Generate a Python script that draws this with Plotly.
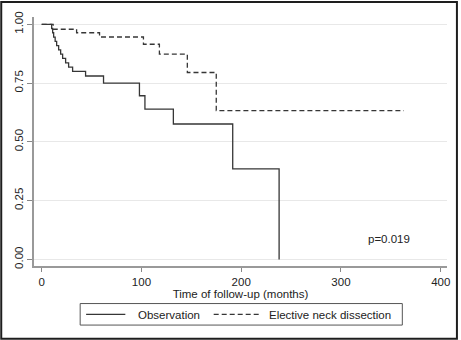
import plotly.graph_objects as go

# Kaplan-Meier step data
obs_time = [0, 10, 11, 12, 13.5, 15, 17, 19, 21, 24, 27, 31, 44, 62, 98, 103.5, 132, 191.5, 238]
obs_surv = [1.0, 0.982, 0.964, 0.945, 0.927, 0.909, 0.891, 0.873, 0.855, 0.836, 0.818, 0.80,
            0.78, 0.75, 0.696, 0.639, 0.576, 0.385, 0.0]

end_time = [0, 11.5, 35, 58, 102, 118, 146, 175, 363]
end_surv = [1.0, 0.979, 0.964, 0.946, 0.915, 0.873, 0.795, 0.633, 0.633]

series_names = ["Observation", "Elective neck dissection"]

x_ticks = [0, 100, 200, 300, 400]
y_ticks = [0.0, 0.25, 0.5, 0.75, 1.0]
y_tick_labels = ["0.00", "0.25", "0.50", "0.75", "1.00"]

FONT = "Liberation Sans, Arial, Helvetica, sans-serif"
FS = 11.5
LINE_COLOR = "#363636"
DASH = "5px,3px"
W, H = 461, 340
L, R, T, B = 34, 11, 16, 74
pw, ph = W - L - R, H - T - B


def px_x(p):  # pixel -> paper x
    return (p - L) / pw


def px_y(p):  # pixel -> paper y
    return (H - B - p) / ph


fig = go.Figure()
fig.add_trace(go.Scatter(x=obs_time, y=obs_surv, mode="lines", name=series_names[0],
                         line=dict(shape="hv", color=LINE_COLOR, width=1.3)))
fig.add_trace(go.Scatter(x=end_time, y=end_surv, mode="lines", name=series_names[1],
                         line=dict(shape="hv", color=LINE_COLOR, width=1.3, dash=DASH)))

fig.add_annotation(x=348.6, y=0.086, text="p=0.019", showarrow=False,
                   font=dict(size=FS, color="#222", family=FONT))

# legend box drawn below the plot
ly = 314.5
fig.add_shape(type="rect", xref="paper", yref="paper",
              x0=px_x(80.5), x1=px_x(405), y0=px_y(325.3), y1=px_y(303.7),
              line=dict(color="#555", width=1), fillcolor="white")
fig.add_shape(type="line", xref="paper", yref="paper",
              x0=px_x(86.5), x1=px_x(126), y0=px_y(ly), y1=px_y(ly),
              line=dict(color=LINE_COLOR, width=1.3))
fig.add_shape(type="line", xref="paper", yref="paper",
              x0=px_x(215), x1=px_x(262), y0=px_y(ly), y1=px_y(ly),
              line=dict(color=LINE_COLOR, width=1.3, dash=DASH))
fig.add_annotation(xref="paper", yref="paper", x=px_x(136.5), y=px_y(ly + 0.5),
                   text=series_names[0], showarrow=False, xanchor="left", yanchor="middle",
                   font=dict(size=FS, color="#222", family=FONT))
fig.add_annotation(xref="paper", yref="paper", x=px_x(268.5), y=px_y(ly + 0.5),
                   text=series_names[1], showarrow=False, xanchor="left", yanchor="middle",
                   font=dict(size=FS, color="#222", family=FONT))

# outer frame around the whole picture
fig.add_shape(type="rect", xref="paper", yref="paper",
              x0=px_x(1), x1=px_x(W - 1), y0=px_y(H - 1), y1=px_y(1),
              line=dict(color="#1e1e1e", width=2), fillcolor="rgba(0,0,0,0)", layer="above")

fig.update_layout(
    width=W, height=H,
    margin=dict(l=L, r=R, t=T, b=B),
    paper_bgcolor="white", plot_bgcolor="white",
    font=dict(family=FONT, size=FS, color="#222"),
    showlegend=False,
    xaxis=dict(range=[-7.7, 406.3], tickvals=x_ticks, ticks="outside", ticklen=4,
               tickcolor="#888", showline=True, linecolor="#999", linewidth=1.5,
               showgrid=False, zeroline=False,
               title=dict(text="Time of follow-up (months)", standoff=0,
                          font=dict(size=FS, color="#222"))),
    yaxis=dict(range=[-0.028, 1.031], tickvals=y_ticks, ticktext=y_tick_labels,
               tickangle=-90, ticks="outside", ticklen=5, tickcolor="#888",
               showline=True, linecolor="#999", linewidth=1.5,
               showgrid=True, gridcolor="#e8e8e8", gridwidth=1, zeroline=False),
)

fig.write_html("out.html")
